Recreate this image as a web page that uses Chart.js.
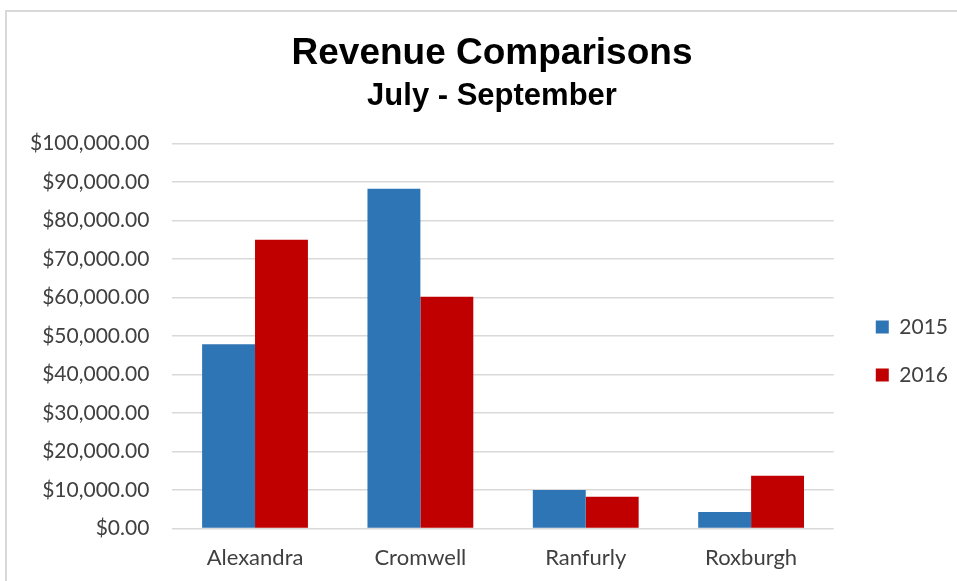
<!DOCTYPE html>
<html>
<head>
<meta charset="utf-8">
<script src="https://cdn.jsdelivr.net/npm/chart.js@4"></script>
<style>
  html, body { margin: 0; padding: 0; background: #fff; overflow: hidden; }
  #wrap {
    position: absolute; left: 5px; top: 10px; width: 960px; height: 580px;
    border-top: 2px solid #d9d9d9; border-left: 2px solid #d9d9d9;
  }
</style>
</head>
<body>
<div id="wrap"><canvas id="myChart"></canvas></div>
<script>
var categories = ["Alexandra", "Cromwell", "Ranfurly", "Roxburgh"];
var rev2015 = [47900, 88300, 10000, 4300];
var rev2016 = [75000, 60200, 8300, 13700];
var yTicks = [0, 10000, 20000, 30000, 40000, 50000, 60000, 70000, 80000, 90000, 100000];

var money = (v) =>
  "$" + v.toLocaleString("en-US", { minimumFractionDigits: 2, maximumFractionDigits: 2 });

var fam = "Lato, 'Open Sans', sans-serif";

// excel centres the titles on the whole frame and pushes the legend further right
const nudge = {
  id: "nudge",
  afterLayout(chart) {
    chart.boxes.forEach((b) => {
      if (b === chart.legend) {
        b.left += 15;
        b.right += 15;
      } else if (b.position === "top" && b.options && b.options.text) {
        b.left += 17;
        b.right += 17;
      }
    });
  },
};

var ctx = document.getElementById("myChart").getContext("2d");
var myChart = new Chart(ctx, {
  type: "bar",
  data: {
    labels: categories,
    datasets: [
      { label: "2015", data: rev2015, backgroundColor: "#2e75b6" },
      { label: "2016", data: rev2016, backgroundColor: "#c00000" },
    ],
  },
  plugins: [nudge],
  options: {
    responsive: true,
    maintainAspectRatio: false,
    animation: false,
    datasets: { bar: { categoryPercentage: 0.64, barPercentage: 1.0 } },
    layout: { padding: { top: 20, left: 0, right: 24, bottom: 13 } },
    plugins: {
      title: {
        display: true,
        text: "Revenue Comparisons",
        color: "#000",
        font: { family: "'Liberation Sans', Arial, sans-serif", size: 37, weight: "bold" },
        padding: { top: 0, bottom: 1 },
      },
      subtitle: {
        display: true,
        text: "July - September",
        color: "#000",
        font: { family: "'Liberation Sans', Arial, sans-serif", size: 31, weight: "bold" },
        padding: { top: 0, bottom: 29 },
      },
      legend: {
        position: "right",
        title: { display: true, text: " ", font: { size: 21 }, padding: { top: 0, bottom: 66 } },
        labels: {
          color: "#404040",
          font: { family: fam, size: 21 },
          boxWidth: 13,
          boxHeight: 13,
          padding: 27,
        },
      },
      tooltip: { enabled: false },
    },
    scales: {
      x: {
        grid: { display: false },
        border: { display: false },
        ticks: { color: "#404040", font: { family: fam, size: 22 }, padding: 8 },
      },
      y: {
        min: 0,
        max: 100000,
        afterBuildTicks: (axis) => { axis.ticks = yTicks.map((v) => ({ value: v })); },
        grid: { color: "#d9d9d9", lineWidth: 1.5, drawTicks: false },
        border: { display: false },
        ticks: { color: "#404040", font: { family: fam, size: 21 }, padding: 23, callback: (v) => money(v) },
      },
    },
  },
});
</script>
</body>
</html>
